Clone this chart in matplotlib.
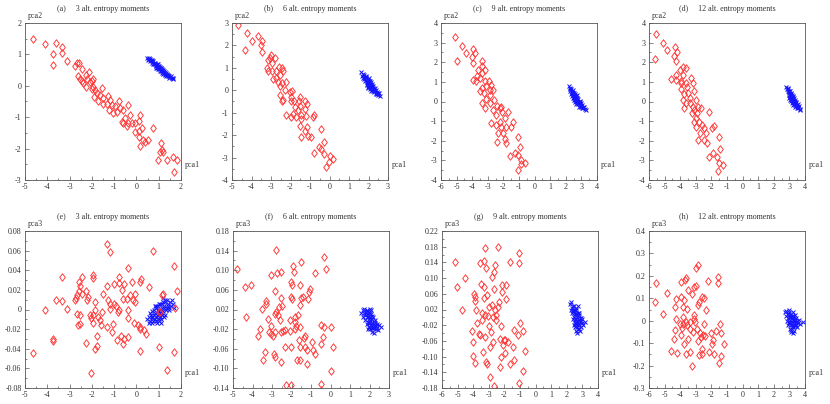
import matplotlib
matplotlib.use("Agg")
import matplotlib.pyplot as plt
from matplotlib.ticker import MultipleLocator

plt.rcParams['font.family'] = ['Liberation Serif', 'DejaVu Serif']
plt.rcParams['axes.unicode_minus'] = False

titles = ["(a)     3 alt. entropy moments", "(b)     6 alt. entropy moments",
          "(c)     9 alt. entropy moments", "(d)     12 alt. entropy moments",
          "(e)     3 alt. entropy moments", "(f)     6 alt. entropy moments",
          "(g)     9 alt. entropy moments", "(h)     12 alt. entropy moments"]
ylabels = ["pca2"] * 4 + ["pca3"] * 4

xlims = [(-5, 2), (-5, 3), (-6, 4), (-6, 4), (-5, 2), (-5, 3), (-6, 4), (-6, 4)]
ylims = [(-3, 2), (-4, 3), (-4, 4), (-4, 4), (-0.08, 0.08), (-0.14, 0.18), (-0.18, 0.22), (-0.3, 0.4)]
yticks_list = [
    [-3, -2, -1, 0, 1, 2],
    [-4, -3, -2, -1, 0, 1, 2, 3],
    [-4, -3, -2, -1, 0, 1, 2, 3, 4],
    [-4, -3, -2, -1, 0, 1, 2, 3, 4],
    [-0.08, -0.06, -0.04, -0.02, 0, 0.02, 0.04, 0.06, 0.08],
    [-0.14, -0.10, -0.06, -0.02, 0.02, 0.06, 0.10, 0.14, 0.18],
    [-0.18, -0.14, -0.10, -0.06, -0.02, 0.02, 0.06, 0.10, 0.14, 0.18, 0.22],
    [-0.3, -0.2, -0.1, 0, 0.1, 0.2, 0.3, 0.4],
]
ytick_labels = [
    ["-3", "-2", "-1", "0", "1", "2"],
    ["-4", "-3", "-2", "-1", "0", "1", "2", "3"],
    ["-4", "-3", "-2", "-1", "0", "1", "2", "3", "4"],
    ["-4", "-3", "-2", "-1", "0", "1", "2", "3", "4"],
    ["-0.08", "-0.06", "-0.04", "-0.02", "0", "0.02", "0.04", "0.06", "0.08"],
    ["-0.14", "-0.10", "-0.06", "-0.02", "0.02", "0.06", "0.10", "0.14", "0.18"],
    ["-0.18", "-0.14", "-0.10", "-0.06", "-0.02", "0.02", "0.06", "0.10", "0.14", "0.18", "0.22"],
    ["-0.3", "-0.2", "-0.1", "0", "0.1", "0.2", "0.3", "0.4"],
]
yminor = [0.5, 0.5, 0.5, 0.5, 0.01, 0.02, 0.02, 0.05]

red_a = [(-4.66,1.49),(-4.10,1.33),(-3.61,1.36),(-3.34,1.22),(-3.76,1.02),(-3.36,1.04),(-3.76,0.67),(-3.13,0.78),
         (-2.68,0.72),(-2.56,0.74),(-2.76,0.64),(-2.46,0.53),(-2.61,0.32),(-2.54,0.22),(-2.46,0.14),(-2.26,0.35),
         (-2.12,0.43),(-2.21,0.23),(-1.97,0.21),(-2.09,0.11),(-2.26,-0.04),(-2.01,-0.11),(-1.86,-0.13),(-1.79,-0.23),
         (-1.91,-0.36),(-1.64,-0.29),(-1.56,-0.07),(-1.49,-0.39),(-1.26,-0.34),(-1.19,-0.45),(-1.31,-0.57),(-1.11,-0.61),
         (-1.52,-0.57),(-0.96,-0.64),(-0.77,-0.50),(-0.74,-0.71),(-0.89,-0.82),(-1.23,-0.77),(-0.62,-0.77),(-0.37,-0.61),
         (-0.29,-0.93),(-0.52,-1.03),(-0.62,-1.19),(-0.37,-1.17),(-0.22,-1.19),(-0.44,-1.28),(-0.07,-1.17),(0.16,-0.93),
         (0.13,-1.11),(0.23,-1.35),(0.13,-1.43),(-0.07,-1.46),(0.13,-1.62),(0.16,-1.91),(0.38,-1.78),(0.53,-1.72),
         (0.76,-1.33),(1.10,-1.83),(1.13,-2.04),(1.21,-2.10),(1.06,-2.10),(0.98,-2.36),(1.35,-2.36),(1.65,-2.26),
         (1.80,-2.36),(1.68,-2.73),(0.28,-1.72),(-0.66,-1.14),(-1.04,-0.87),(-1.71,-0.50),(-2.01,0.14),(-1.94,-0.04),
         (-2.38,0.09)]
blue_a = [(0.48,0.90),(0.55,0.85),(0.60,0.80),(0.62,0.86),(0.68,0.78),(0.70,0.74),(0.72,0.82),(0.78,0.72),(0.80,0.68),
          (0.84,0.74),(0.86,0.66),(0.90,0.64),(0.92,0.70),(0.95,0.60),(0.98,0.62),(1.00,0.58),(1.02,0.54),(1.05,0.60),
          (1.08,0.52),(1.10,0.48),(1.12,0.56),(1.15,0.50),(1.18,0.45),(1.20,0.50),(1.22,0.42),(1.26,0.44),(1.28,0.38),
          (1.32,0.40),(1.35,0.35),(1.40,0.33),(1.42,0.30),(1.48,0.30),(1.52,0.27),(1.58,0.25),(1.65,0.22),(0.88,0.58),
          (1.06,0.46),(0.75,0.78),(1.15,0.40),(0.96,0.68),(0.66,0.82),(0.74,0.70),(0.82,0.70),(0.94,0.56),(1.03,0.64),
          (1.13,0.46),(1.24,0.48),(1.30,0.34),(1.38,0.38),(1.45,0.26),(0.58,0.88),(0.86,0.62),(0.99,0.52),(1.16,0.54),
          (1.34,0.30),(1.55,0.30),(1.62,0.26),(0.52,0.82),(1.09,0.58),(1.20,0.38)]

red_b = [(-4.70,2.93),(-4.24,2.55),(-3.98,2.18),(-4.32,1.78),(-3.65,2.43),(-3.44,2.21),(-3.51,2.03),(-3.44,1.69),
         (-3.00,1.58),(-2.80,1.44),(-3.05,1.44),(-3.14,1.33),(-2.97,1.21),(-3.22,0.99),(-3.14,0.88),(-2.97,0.84),
         (-2.72,0.88),(-2.46,0.99),(-2.38,0.84),(-2.55,0.69),(-2.72,0.54),(-2.88,0.50),(-2.66,0.35),(-2.43,0.32),
         (-2.21,0.35),(-2.55,0.20),(-2.29,0.02),(-2.55,-0.20),(-2.38,-0.43),(-2.43,-0.50),(-2.04,-0.06),(-1.92,-0.01),
         (-1.99,-0.28),(-1.95,-0.46),(-1.82,-0.50),(-1.53,-0.31),(-1.57,-0.50),(-1.53,-0.70),(-1.28,-0.50),(-1.16,-0.61),
         (-1.62,-0.87),(-1.87,-1.05),(-1.99,-1.20),(-1.70,-1.17),(-1.45,-1.10),(-1.28,-0.85),(-1.19,-1.14),(-0.85,-1.20),
         (-0.77,-1.10),(-1.48,-1.29),(-1.53,-1.59),(-1.48,-2.07),(-1.28,-1.80),(-1.14,-1.62),(-1.11,-2.04),(-0.97,-2.07),
         (-0.43,-1.74),(-0.30,-2.29),(-0.52,-2.54),(-0.43,-2.63),(-0.77,-2.81),(-0.30,-2.84),(0.04,-2.93),(0.16,-3.08),
         (-0.01,-3.18),(-0.18,-3.41),(-2.21,-1.10),(-1.79,-0.73),(-2.60,1.06)]
blue_b = [(1.62,0.80),(1.70,0.72),(1.75,0.66),(1.80,0.58),(1.78,0.50),(1.85,0.56),(1.88,0.45),(1.90,0.38),(1.95,0.48),
          (1.92,0.30),(1.98,0.35),(2.00,0.25),(2.02,0.40),(2.05,0.20),(2.08,0.30),(2.10,0.15),(2.12,0.25),(2.15,0.08),
          (2.18,0.18),(2.20,0.02),(2.22,0.12),(2.25,-0.02),(2.28,0.05),(2.30,-0.08),(2.35,-0.05),(2.40,-0.12),
          (2.45,-0.15),(2.50,-0.20),(2.58,-0.24),(1.96,0.15),(2.06,0.05),(2.15,0.35),(1.85,0.62),(2.32,0.08),(2.00,0.55),
          (1.68,0.64),(1.82,0.40),(1.94,0.22),(2.04,0.32),(2.10,0.42),(2.14,-0.02),(2.24,0.20),(2.26,0.06),(2.38,0.00),
          (2.42,-0.06),(2.48,-0.10),(1.72,0.54),(1.88,0.60),(2.18,0.28),(2.36,-0.16),(2.54,-0.14),(1.98,0.08)]

red_c = [(-5.11,3.27),(-4.68,2.84),(-5.00,2.04),(-4.40,2.47),(-3.98,2.67),(-3.83,2.47),(-4.04,2.26),(-3.94,1.96),
         (-3.62,1.62),(-3.40,1.79),(-3.19,1.62),(-3.40,1.45),(-3.72,1.31),(-3.98,1.11),(-3.77,1.02),(-3.51,1.19),
         (-3.19,1.02),(-2.91,1.02),(-3.09,0.77),(-3.34,0.68),(-3.51,0.51),(-3.26,0.43),(-2.77,0.85),(-2.66,0.60),
         (-2.87,0.34),(-3.13,0.12),(-3.34,-0.09),(-3.19,-0.34),(-2.87,-0.09),(-2.62,0.09),(-2.40,-0.22),(-2.66,-0.43),
         (-2.23,-0.34),(-2.13,-0.26),(-2.45,-0.68),(-2.06,-0.56),(-2.77,-1.11),(-2.49,-1.19),(-2.23,-1.02),(-1.91,-0.85),
         (-1.70,-0.56),(-1.81,-1.28),(-2.13,-1.31),(-2.02,-1.62),(-2.34,-1.62),(-2.40,-2.04),(-1.91,-1.92),(-1.81,-2.09),
         (-1.38,-1.07),(-1.49,-1.28),(-1.06,-1.79),(-0.96,-2.30),(-1.60,-2.77),(-1.28,-2.64),(-1.06,-2.72),(-0.85,-2.98),
         (-0.64,-3.15),(-0.85,-3.18),(-1.06,-3.49),(-3.40,2.04),(-2.83,0.60)]
blue_c = [(2.20,0.78),(2.25,0.65),(2.30,0.55),(2.35,0.62),(2.38,0.45),(2.42,0.50),(2.45,0.35),(2.48,0.42),(2.50,0.25),
          (2.52,0.32),(2.55,0.18),(2.58,0.28),(2.60,0.10),(2.62,0.20),(2.65,0.02),(2.68,0.12),(2.70,-0.05),(2.72,0.05),
          (2.75,-0.10),(2.78,0.00),(2.80,-0.15),(2.85,-0.08),(2.88,-0.22),(2.92,-0.15),(2.95,-0.28),(3.00,-0.25),
          (3.05,-0.32),(3.12,-0.35),(3.20,-0.38),(3.28,-0.42),(2.40,0.30),(2.60,-0.05),(2.80,0.15),(2.55,0.45),(2.90,-0.02),
          (2.28,0.70),(2.32,0.40),(2.44,0.60),(2.50,0.08),(2.56,0.36),(2.64,0.28),(2.66,-0.12),(2.74,0.20),(2.84,-0.02),
          (2.86,-0.30),(2.98,-0.10),(3.02,-0.18),(3.10,-0.26),(2.46,0.18),(2.70,0.32),(2.94,0.05),(3.16,-0.30)]

red_d = [(-5.53,3.44),(-5.11,2.98),(-4.83,2.60),(-5.60,2.16),(-4.36,2.77),(-4.19,2.50),(-4.40,2.33),(-4.26,2.04),
         (-3.83,1.75),(-3.62,1.70),(-4.04,1.58),(-3.83,1.36),(-4.26,1.36),(-4.57,1.16),(-4.26,1.11),(-3.98,1.02),
         (-3.62,0.94),(-3.30,1.19),(-3.19,0.94),(-3.55,0.73),(-3.94,0.63),(-3.77,0.39),(-3.47,0.43),(-3.09,0.51),
         (-3.34,0.17),(-2.98,0.09),(-3.83,0.09),(-3.62,-0.09),(-3.77,-0.34),(-3.19,-0.26),(-2.87,-0.26),(-2.66,-0.34),
         (-3.09,-0.43),(-3.26,-0.60),(-2.94,-0.60),(-2.13,-0.56),(-2.98,-0.85),(-3.13,-1.02),(-2.77,-1.07),(-2.62,-1.19),
         (-2.45,-1.36),(-2.98,-1.28),(-2.70,-1.62),(-2.34,-1.62),(-2.87,-1.96),(-2.45,-1.96),(-2.28,-2.09),(-1.81,-1.24),
         (-1.98,-1.36),(-1.49,-1.82),(-1.43,-2.43),(-1.91,-2.64),(-2.13,-2.81),(-1.64,-2.81),(-1.49,-3.11),(-1.28,-3.23),
         (-1.60,-3.52),(-3.94,0.94),(-3.40,-0.09)]
blue_d = [(2.80,0.75),(2.85,0.62),(2.90,0.52),(2.92,0.65),(2.95,0.42),(3.00,0.48),(3.02,0.35),(3.05,0.28),(3.08,0.40),
          (3.10,0.18),(3.12,0.25),(3.15,0.10),(3.18,0.20),(3.20,0.02),(3.22,0.12),(3.25,-0.05),(3.28,0.05),(3.30,-0.12),
          (3.32,-0.02),(3.35,-0.18),(3.40,-0.10),(3.42,-0.25),(3.48,-0.20),(3.52,-0.32),(3.58,-0.30),(3.65,-0.38),
          (3.70,-0.42),(3.00,0.20),(3.15,-0.10),(3.35,0.10),(3.10,0.45),(3.45,-0.05),
          (2.88,0.70),(2.96,0.56),(3.04,0.10),(3.06,0.52),(3.14,0.34),(3.20,0.28),(3.24,-0.18),(3.26,0.22),(3.34,-0.28),
          (3.38,0.00),(3.46,-0.32),(3.54,-0.14),(3.62,-0.24),(3.12,0.02),(3.30,0.18),(2.98,0.32)]

red_e = [(-4.66,-0.0439),(-4.10,0.0000),(-3.76,-0.0296),(-3.76,-0.032),(-3.61,0.0095),(-3.36,0.0334),(-3.36,0.0088),
         (-3.13,0.0003),(-2.76,0.0095),(-2.71,0.012),(-2.65,0.0146),(-2.56,0.0191),(-2.53,0.0238),(-2.46,0.0334),
         (-2.56,0.0283),(-2.46,0.0157),(-2.68,-0.0048),(-2.53,-0.0058),(-2.61,-0.016),(-2.53,-0.0143),(-2.26,-0.034),
         (-2.21,0.0095),(-2.26,0.0191),(-2.16,0.013),(-2.08,-0.0058),(-2.05,-0.0082),(-1.96,-0.0058),(-2.05,-0.0647),
         (-1.96,0.0317),(-1.96,0.0351),(-1.86,0.0078),(-1.86,0.0000),(-1.93,-0.0136),(-1.86,-0.0398),(-1.79,-0.0374),
         (-1.79,-0.0272),(-1.71,-0.0075),(-1.64,-0.0109),(-1.56,-0.0024),(-1.59,-0.016),(-1.49,0.0163),(-1.31,0.0667),
         (-1.19,0.0589),(-1.31,0.0238),(-1.26,0.0095),(-1.19,0.0061),(-1.31,-0.0177),(-1.19,0.0010),(-1.07,-0.0143),
         (-1.11,-0.0228),(-1.01,0.0259),(-0.92,0.0034),(-1.01,0.0054),(-0.89,-0.0313),(-0.77,0.0334),(-0.77,0.0272),
         (-0.77,0.0000),(-0.71,-0.0272),(-0.66,0.0197),(-0.62,-0.0354),(-0.58,0.0259),(-0.62,0.0102),(-0.56,-0.0296),
         (-0.44,0.0102),(-0.40,0.0000),(-0.40,-0.0082),(-0.36,0.0419),(-0.38,-0.0279),(-0.29,0.0146),(-0.17,0.0095),
         (-0.22,0.0283),(-0.11,-0.0136),(-0.07,0.0163),(-0.07,0.0078),(0.09,-0.016),(0.16,-0.0177),(0.16,-0.0194),
         (0.16,0.0283),(0.19,0.0306),(0.16,-0.0422),(0.34,-0.0211),(0.43,-0.0245),(0.58,0.0225),(0.76,0.0599),
         (1.03,-0.0381),(1.13,0.0146),(1.21,0.0163),(1.06,-0.0024),(1.36,-0.062),(1.69,0.0443),(1.81,0.0191),
         (1.73,0.0020),(1.69,-0.0432),(-0.81,-0.0024),(1.03,-0.0024)]
blue_e = [(0.48,-0.010),(0.55,-0.008),(0.60,-0.012),(0.62,-0.004),(0.68,-0.009),(0.70,-0.002),(0.75,-0.012),(0.78,-0.006),
          (0.80,0.000),(0.82,-0.010),(0.85,-0.004),(0.88,0.002),(0.90,-0.008),(0.92,-0.014),(0.95,-0.002),(0.98,0.004),
          (1.00,-0.006),(1.02,-0.012),(1.05,0.000),(1.08,0.006),(1.10,-0.004),(1.12,-0.010),(1.15,0.002),(1.18,0.008),
          (1.20,-0.002),(1.25,0.004),(1.28,-0.006),(1.30,0.008),(1.35,0.002),(1.40,0.006),(1.45,0.000),(1.50,0.008),
          (1.55,0.004),(1.62,0.006),(1.70,0.002),(1.00,0.006),(0.90,0.004),(1.20,0.012),(1.10,-0.014),(0.70,-0.014),
          (0.65,-0.006),(0.72,-0.008),(0.86,-0.012),(0.94,-0.006),(0.96,0.000),(1.04,-0.004),(1.06,-0.008),(1.14,-0.006),
          (1.16,0.006),(1.22,0.002),(1.24,-0.008),(1.32,0.000),(1.38,0.010),(1.42,0.004),(1.48,0.002),(1.58,0.010),
          (0.84,0.004),(1.26,0.010),(0.58,-0.014),(1.00,-0.010)]

red_f = [(-4.78,0.1024),(-4.40,0.065),(-4.06,0.0697),(-4.32,0.005),(-3.72,-0.0345),(-3.63,-0.0188),(-3.51,0.022),
         (-3.29,0.0309),(-3.29,0.0377),(-3.21,0.0016),(-3.38,-0.0665),(-3.46,-0.0835),(-3.17,-0.0256),(-3.07,-0.014),
         (-3.03,-0.029),(-2.95,-0.0345),(-3.07,0.0901),(-2.86,0.0118),(-2.78,0.0152),(-2.73,0.0949),(-2.78,0.1412),
         (-2.83,-0.0256),(-2.90,-0.0699),(-2.83,-0.0767),(-2.83,0.0581),(-2.69,0.0084),(-2.66,0.0254),(-2.56,0.0969),
         (-2.61,-0.0018),(-2.52,-0.0256),(-2.44,-0.0236),(-2.56,-0.0869),(-2.52,0.0425),(-2.49,0.0268),(-2.35,-0.0222),
         (-2.32,-0.0563),(-2.26,-0.1346),(-2.09,-0.0236),(-2.09,-0.0004),(-2.04,0.0459),(-2.04,-0.0563),(-2.01,0.0765),
         (-1.97,0.0697),(-2.04,-0.1346),(-1.97,0.0404),(-1.92,0.1085),(-1.87,0.0969),(-1.84,-0.0188),(-1.80,0.005),
         (-1.80,-0.0052),(-1.75,-0.014),(-1.70,-0.0835),(-1.67,0.0084),(-1.63,-0.0413),(-1.58,-0.0154),(-1.58,-0.0563),
         (-1.58,0.0697),(-1.58,-0.0835),(-1.58,0.0288),(-1.53,0.1174),(-1.53,0.0425),(-1.41,0.0445),(-1.32,-0.0563),
         (-1.36,-0.0372),(-1.32,-0.0345),(-1.19,-0.0631),(-1.19,-0.0917),(-1.15,0.0404),(-1.07,0.0608),(-1.12,0.056),
         (-0.95,-0.046),(-0.90,-0.0617),(-0.81,-0.0699),(-0.81,0.0949),(-0.50,-0.012),(-0.50,-0.0494),(-0.47,-0.1325),
         (-0.33,0.1262),(-0.33,-0.0154),(-0.38,-0.0358),(-0.21,0.1017),(0.01,-0.0154),(0.01,-0.106),(0.13,-0.0563)]
blue_f = [(1.58,0.012),(1.65,0.018),(1.68,0.005),(1.72,0.022),(1.75,0.010),(1.78,-0.002),(1.80,0.015),(1.85,0.005),
          (1.85,-0.010),(1.88,0.020),(1.90,-0.005),(1.92,0.010),(1.95,-0.015),(1.95,0.000),(1.98,0.015),(2.00,-0.008),
          (2.02,0.005),(2.05,-0.020),(2.05,-0.002),(2.08,0.010),(2.10,-0.012),(2.12,0.000),(2.15,-0.025),(2.15,-0.008),
          (2.18,0.005),(2.20,-0.018),(2.22,-0.005),(2.25,-0.028),(2.28,-0.012),(2.30,-0.002),(2.35,-0.020),(2.40,-0.010),
          (2.45,-0.022),(2.50,-0.012),(2.58,-0.015),(2.00,0.022),(1.90,-0.020),(2.10,0.018),
          (1.70,0.012),(1.82,0.008),(1.86,0.016),(1.94,0.004),(1.96,-0.008),(2.00,0.002),(2.04,0.012),(2.06,-0.012),
          (2.12,-0.018),(2.14,0.006),(2.18,-0.012),(2.24,-0.018),(2.26,-0.008),(2.32,-0.014),(2.38,-0.018),(1.98,-0.016)]

red_g = [(-5.15,0.1417),(-5.04,0.0762),(-4.72,0.0183),(-4.50,0.0991),(-4.08,-0.0345),(-4.01,-0.0626),(-4.01,-0.0991),
         (-3.93,0.0591),(-3.86,0.0523),(-3.86,0.0421),(-3.80,0.0183),(-3.86,-0.1162),(-3.76,-0.014),(-3.65,-0.0413),
         (-3.59,0.1374),(-3.54,-0.0455),(-3.50,0.0847),(-3.44,0.0115),(-3.44,-0.0055),(-3.37,-0.0881),(-3.33,0.1443),
         (-3.33,0.0481),(-3.29,0.0762),(-3.22,0.1757),(-3.22,0.0055),(-3.16,0.1247),(-3.22,-0.0498),(-3.12,0.0566),
         (-3.16,-0.1136),(-3.12,-0.1196),(-3.07,0.0030),(-3.01,0.0268),(-3.01,-0.0226),(-2.94,-0.0753),(-2.90,-0.1519),
         (-2.86,-0.037),(-2.80,0.1017),(-2.80,0.0311),(-2.73,0.0013),(-2.73,-0.0626),(-2.69,0.0711),(-2.69,-0.1757),
         (-2.65,0.1162),(-2.58,0.1332),(-2.58,0.02),(-2.52,0.0055),(-2.52,-0.0055),(-2.43,0.18),(-2.43,0.0251),
         (-2.37,0.0396),(-2.30,-0.0540),(-2.26,-0.1264),(-2.22,-0.0226),(-2.22,-0.1009),(-2.15,0.0651),(-2.15,0.0821),
         (-2.09,-0.0711),(-2.00,-0.0583),(-1.94,-0.0566),(-1.94,-0.0906),(-1.88,0.0821),(-1.88,0.0455),(-1.79,-0.0626),
         (-1.66,-0.1179),(-1.62,0.1417),(-1.45,-0.0753),(-1.36,-0.0328),(-1.36,-0.1094),(-1.15,-0.0455),(-1.09,0.163),
         (-1.09,0.1374),(-1.09,-0.1672),(-0.98,-0.014),(-0.81,-0.0345),(-0.81,-0.1366),(-0.66,-0.0855)]
blue_g = [(2.20,0.035),(2.25,0.020),(2.30,0.038),(2.35,0.010),(2.38,0.028),(2.40,-0.005),(2.42,0.015),(2.45,0.030),
          (2.48,0.000),(2.50,-0.015),(2.50,0.020),(2.52,0.008),(2.55,-0.025),(2.55,-0.005),(2.58,0.012),(2.60,-0.035),
          (2.60,0.025),(2.62,-0.012),(2.65,0.002),(2.65,-0.040),(2.68,-0.020),(2.70,0.010),(2.72,-0.030),(2.75,-0.008),
          (2.78,0.005),(2.80,-0.018),(2.82,-0.035),(2.85,-0.002),(2.88,-0.025),(2.90,-0.010),(2.95,-0.015),(3.00,-0.005),
          (3.05,-0.020),(3.15,-0.012),(2.70,0.030),(2.45,-0.020),
          (2.32,0.025),(2.40,0.020),(2.46,0.010),(2.52,-0.010),(2.56,0.018),(2.58,-0.018),(2.62,0.008),(2.64,-0.025),
          (2.68,0.000),(2.70,-0.012),(2.74,-0.020),(2.76,0.012),(2.78,-0.030),(2.84,-0.012),(2.88,-0.002),(2.62,-0.005)]

red_h = [(-5.60,0.0842),(-5.53,0.1662),(-5.11,0.0291),(-4.83,0.1245),(-4.62,-0.1347),(-4.40,-0.0796),(-4.36,-0.0424),
         (-4.26,0.0098),(-4.32,0.0619),(-4.26,0.0947),(-4.19,-0.1436),(-4.04,-0.0126),(-3.98,0.1736),(-3.94,0.1066),
         (-3.94,-0.0647),(-3.89,-0.0304),(-3.83,0.0619),(-3.83,0.0172),(-3.83,-0.0156),(-3.77,0.0917),(-3.77,-0.1049),
         (-3.68,0.1811),(-3.62,-0.0051),(-3.62,0.1885),(-3.62,-0.1496),(-3.55,-0.02),(-3.55,0.0544),(-3.51,0.1364),
         (-3.47,-0.0796),(-3.40,-0.0051),(-3.34,-0.1392),(-3.34,-0.0349),(-3.26,0.1185),(-3.26,-0.2032),(-3.19,-0.0498),
         (-3.13,0.0098),(-3.09,0.0247),(-3.09,0.1483),(-3.04,-0.0051),(-2.98,0.1542),(-2.98,0.2332),(-2.91,-0.0349),
         (-2.87,-0.09),(-2.83,0.2481),(-2.83,0.0693),(-2.77,0.0842),(-2.77,-0.1541),(-2.70,-0.0543),(-2.66,-0.0721),
         (-2.62,0.1066),(-2.62,-0.1243),(-2.62,-0.1466),(-2.55,-0.0647),(-2.49,-0.0126),(-2.45,0.0991),(-2.40,-0.0692),
         (-2.34,0.047),(-2.19,0.1781),(-2.13,-0.1392),(-2.02,-0.0543),(-1.98,-0.1049),(-1.91,-0.087),(-1.81,-0.1496),
         (-1.70,-0.0453),(-1.60,0.1662),(-1.55,0.193),(-1.49,-0.1884),(-1.43,-0.0126),(-1.38,-0.0543),(-1.38,-0.1585),
         (-1.21,-0.1049)]
blue_h = [(2.70,0.040),(2.75,0.020),(2.80,0.045),(2.85,0.000),(2.88,0.030),(2.90,-0.020),(2.95,0.015),(2.98,0.040),
          (3.00,-0.010),(3.02,0.025),(3.05,-0.035),(3.05,0.005),(3.10,0.030),(3.10,-0.020),(3.12,-0.050),(3.15,0.010),
          (3.18,-0.005),(3.20,0.040),(3.20,-0.030),(3.25,0.015),(3.28,-0.015),(3.30,-0.045),(3.32,0.000),(3.35,0.025),
          (3.38,-0.025),(3.40,-0.005),(3.45,0.010),(3.48,-0.030),(3.55,-0.010),(3.60,0.005),(3.70,-0.015),(3.85,-0.005),
          (3.00,0.050),(3.25,-0.055),
          (2.92,0.030),(2.96,-0.005),(3.04,0.015),(3.08,-0.008),(3.14,0.022),(3.16,-0.030),(3.22,0.005),(3.24,-0.022),
          (3.30,0.012),(3.34,-0.012),(3.42,-0.018),(3.50,0.000),(3.12,-0.040),(3.20,0.020),(2.94,0.010),(3.36,0.005)]

reds = [red_a, red_b, red_c, red_d, red_e, red_f, red_g, red_h]
blues = [blue_a, blue_b, blue_c, blue_d, blue_e, blue_f, blue_g, blue_h]

W, H = 830, 404
fig = plt.figure(figsize=(W / 100, H / 100), dpi=100)

lefts_px = [25, 232, 441, 649, 25, 233, 442, 649]
tops_px = [23, 23, 23, 23, 231, 231, 231, 231]
aw, ah = 156, 157
diamond = [(-0.75, 0), (0, 1), (0.75, 0), (0, -1), (-0.75, 0)]
tc = '#333333'
fs = 5.8

for i in range(8):
    ax = fig.add_axes([lefts_px[i] / W, 1 - (tops_px[i] + ah) / H, aw / W, ah / H])
    rx = [p[0] for p in reds[i]]
    ry = [p[1] for p in reds[i]]
    bx = [p[0] for p in blues[i]]
    by = [p[1] for p in blues[i]]
    ax.plot(bx, by, linestyle='none', marker='x', markersize=3.4, markeredgewidth=0.7, color='#1414ff')
    ax.plot(rx, ry, linestyle='none', marker=diamond, markersize=5.4, markerfacecolor='none',
            markeredgecolor='#ff3030', markeredgewidth=0.65)
    ax.set_xlim(*xlims[i])
    ax.set_ylim(*ylims[i])
    xt = list(range(int(xlims[i][0]), int(xlims[i][1]) + 1))
    ax.set_xticks(xt)
    ax.set_xticklabels([str(v) for v in xt])
    ax.set_yticks(yticks_list[i])
    ax.set_yticklabels(ytick_labels[i])
    ax.xaxis.set_minor_locator(MultipleLocator(0.5))
    ax.yaxis.set_minor_locator(MultipleLocator(yminor[i]))
    ax.tick_params(axis='both', which='major', direction='in', length=3, width=0.5, labelsize=fs,
                   colors='#555555', labelcolor=tc, pad=2.5)
    ax.tick_params(axis='both', which='minor', direction='in', length=1.5, width=0.5, colors='#555555')
    ax.tick_params(top=False, right=False, which='both')
    for s in ax.spines.values():
        s.set_linewidth(0.6)
        s.set_color('#555555')
    ax.text(0.5, 1.0 + 14 / ah, titles[i], transform=ax.transAxes, ha='center', va='center',
            fontsize=fs, color=tc)
    ax.text(0.02, 1.0 + 7 / ah, ylabels[i], transform=ax.transAxes, ha='left', va='center',
            fontsize=fs, color=tc)
    ax.text(1.0 + 4 / aw, 15 / ah, "pca1", transform=ax.transAxes, ha='left', va='center',
            fontsize=fs, color=tc)

fig.savefig("out.png", dpi=100)
